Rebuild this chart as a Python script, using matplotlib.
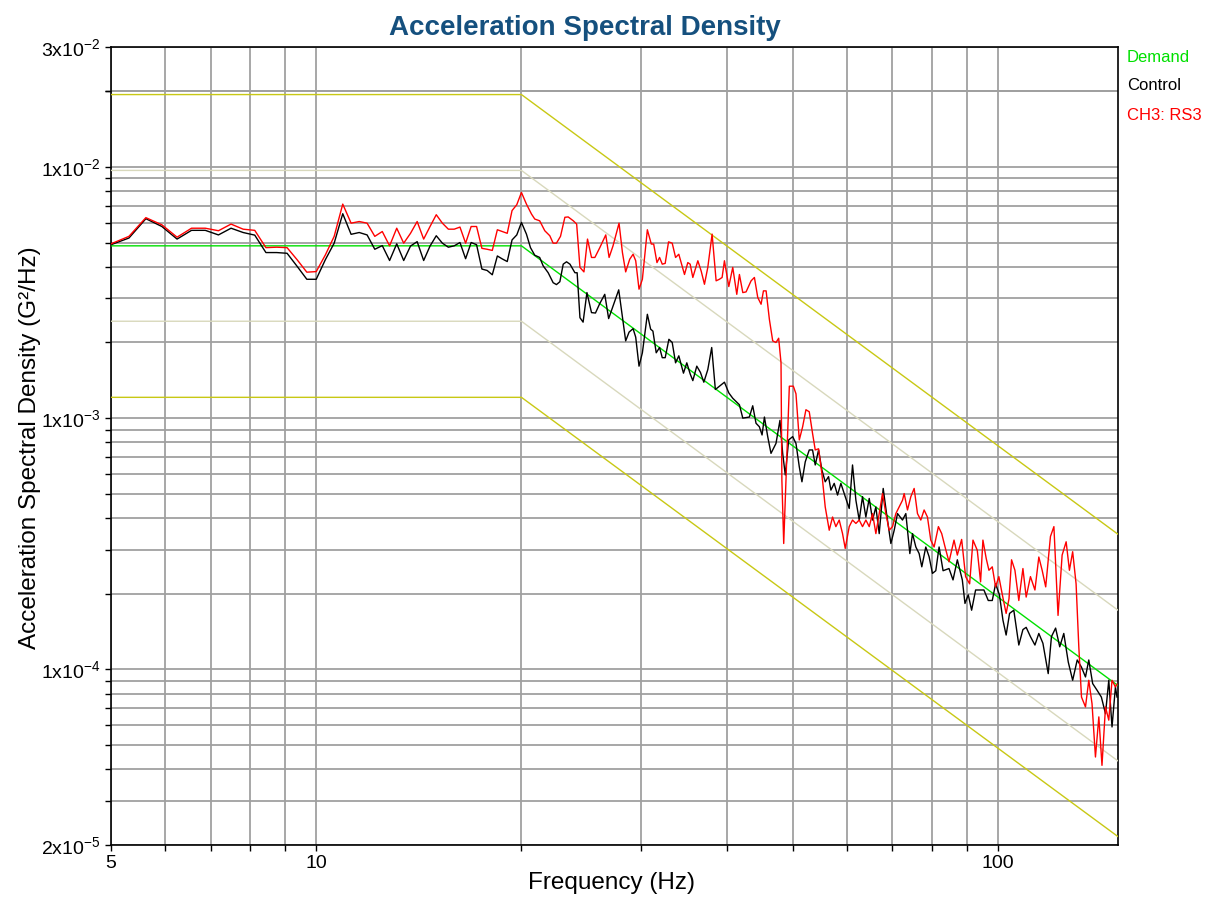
import numpy as np
import matplotlib
matplotlib.use("Agg")
import matplotlib.pyplot as plt
from matplotlib.ticker import FixedLocator, NullFormatter

plt.rcParams['font.family'] = ['Liberation Sans', 'DejaVu Sans']
plt.rcParams['mathtext.default'] = 'regular'

# PSD values below are in units of 1e-3 G^2/Hz
# 5-20 Hz, analyzer lines every 0.3125 Hz
freq_lo = np.arange(5, 20.01, 0.3125)
ctrl_lo = [4.90, 5.21, 6.22, 5.79, 5.16, 5.59, 5.59, 5.36, 5.70, 5.48,
           5.35, 4.56, 4.56, 4.53, 4.02, 3.57, 3.57, 4.27, 4.97, 6.51,
           5.39, 5.48, 5.36, 4.70, 4.86, 4.24, 4.94, 4.24, 4.84, 5.04,
           4.24, 4.84, 5.32, 4.97, 4.79, 4.85, 5.00, 4.31, 5.00, 4.90,
           3.92, 3.87, 3.72, 4.42, 4.30, 4.20, 5.12, 5.36, 6.01]
rs3_lo = [4.94, 5.29, 6.28, 5.88, 5.25, 5.70, 5.70, 5.57, 5.92, 5.65,
          5.59, 4.77, 4.79, 4.77, 4.27, 3.81, 3.83, 4.46, 5.29, 7.11,
          5.97, 6.06, 5.97, 5.29, 5.53, 4.85, 5.70, 4.97, 5.44, 6.06,
          5.16, 5.79, 6.45, 5.97, 5.65, 5.65, 5.76, 4.97, 5.79, 5.79,
          4.74, 4.70, 4.65, 5.62, 5.53, 5.44, 6.70, 7.07, 7.91]

# above 20 Hz
ctrl_hi_f = [20.34, 20.62, 20.92, 21.27, 21.52, 21.89, 22.26, 22.51, 22.77, 23.03,
             23.29, 23.56, 23.96, 24.14, 24.37, 24.63, 24.95, 25.34, 25.68, 26.06,
             26.50, 26.85, 27.25, 27.78, 28.19, 28.44, 28.77, 29.16, 29.42, 29.75,
             30.09, 30.60, 30.94, 31.18, 31.53, 31.89, 32.18, 32.50, 32.91, 33.28,
             33.66, 34.03, 34.57, 34.96, 35.36, 35.68, 36.16, 36.61, 37.03, 37.53,
             38.03, 38.50, 39.03, 39.70, 40.29, 40.83, 41.76, 42.24, 43.19, 43.68,
             44.17, 44.67, 45.08, 45.44, 45.95, 46.46, 47.25, 47.89, 48.33, 48.76,
             49.32, 49.99, 50.55, 51.12, 51.58, 52.16, 52.87, 53.46, 53.95, 54.56,
             55.17, 55.80, 56.43, 56.88, 57.52, 58.17, 58.83, 59.70, 60.51, 61.19,
             61.89, 62.59, 63.29, 64.01, 64.74, 65.47, 66.21, 66.96, 67.87, 68.64,
             69.65, 70.44, 71.23, 72.44, 73.26, 74.26, 74.93, 75.78, 76.63, 77.32,
             78.37, 79.25, 80.15, 81.06, 81.97, 83.08, 84.76, 85.92, 87.18, 88.66,
             89.46, 90.46, 91.49, 92.73, 93.99, 95.37, 96.78, 98.1, 99.2, 100.5,
             101.7, 102.8, 104.0, 105.5, 107.3, 108.8, 110.0, 111.6, 113.3, 114.8,
             116.4, 118.5, 119.8, 121.5, 123.2, 124.9, 126.8, 128.7, 130.7, 132.6,
             134.4, 135.9, 137.7, 139.8, 141.8, 143.8, 145.4, 147.0, 148.7, 149.5]
ctrl_hi = [5.40, 4.77, 4.45, 4.36, 4.04, 3.79, 3.46, 3.40, 3.49, 4.10,
           4.19, 4.10, 3.79, 3.79, 2.51, 2.41, 3.16, 2.63, 2.62, 2.86,
           3.11, 2.49, 2.79, 3.24, 2.41, 2.03, 2.20, 2.27, 2.10, 1.61,
           1.82, 2.59, 2.26, 2.22, 1.82, 1.91, 1.74, 1.74, 2.06, 2.00,
           1.66, 1.77, 1.51, 1.66, 1.50, 1.41, 1.61, 1.52, 1.39, 1.56,
           1.91, 1.30, 1.34, 1.39, 1.26, 1.20, 1.13, 1.00, 1.01, 1.12,
           0.954, 0.924, 0.857, 1.01, 0.844, 0.724, 0.793, 0.980, 0.724, 0.594,
           0.819, 0.844, 0.793, 0.640, 0.558, 0.670, 0.747, 0.747, 0.651, 0.747,
           0.622, 0.558, 0.585, 0.517, 0.550, 0.494, 0.550, 0.487, 0.437, 0.651,
           0.471, 0.393, 0.487, 0.404, 0.479, 0.393, 0.443, 0.347, 0.525, 0.417,
           0.317, 0.358, 0.417, 0.393, 0.417, 0.289, 0.347, 0.307, 0.289, 0.256,
           0.307, 0.281, 0.241, 0.247, 0.307, 0.247, 0.252, 0.227, 0.273, 0.227,
           0.183, 0.198, 0.172, 0.207, 0.207, 0.207, 0.188, 0.188, 0.219, 0.198,
           0.157, 0.137, 0.167, 0.172, 0.125, 0.144, 0.147, 0.135, 0.125, 0.139,
           0.127, 0.0962, 0.135, 0.146, 0.123, 0.139, 0.107, 0.0905, 0.109, 0.102,
           0.0933, 0.109, 0.0878, 0.0825, 0.0776, 0.0666, 0.0905, 0.0590, 0.0851, 0.0776]

rs3_hi_f = [20.34, 20.69, 20.92, 21.27, 21.64, 22.01, 22.26, 22.51, 22.82, 23.16,
            23.42, 23.83, 24.10, 24.37, 24.70, 25.00, 25.34, 25.63, 26.06, 26.59,
            26.89, 27.25, 27.81, 28.13, 28.44, 28.83, 29.16, 29.42, 29.75, 30.09,
            30.60, 31.01, 31.26, 31.61, 31.89, 32.18, 32.50, 32.87, 33.28, 33.66,
            34.03, 34.69, 35.08, 35.36, 35.68, 36.29, 36.70, 37.11, 37.53, 38.08,
            38.60, 39.03, 39.39, 39.70, 40.29, 40.83, 41.39, 41.76, 42.24, 42.71,
            43.44, 43.93, 44.43, 44.93, 45.29, 45.70, 46.21, 46.73, 47.25, 47.68,
            48.06, 48.2, 48.50, 48.98, 49.43, 50.10, 50.55, 51.12, 51.70, 52.28,
            52.87, 53.46, 53.95, 54.56, 55.17, 55.80, 56.56, 57.20, 57.84, 58.50,
            59.16, 59.70, 60.51, 61.19, 61.89, 62.59, 63.29, 64.01, 64.74, 65.47,
            66.21, 66.96, 67.72, 68.48, 69.26, 70.04, 70.83, 71.63, 72.44, 72.85,
            73.67, 74.51, 75.35, 76.20, 77.06, 77.93, 78.81, 79.70, 80.60, 81.78,
            82.70, 83.64, 84.76, 86.21, 87.18, 88.46, 89.65, 90.88, 91.91, 93.25,
            94.30, 95.05, 96.12, 97.0, 98.1, 99.2, 100.3, 101.5, 102.8, 103.8,
            104.7, 105.9, 107.3, 108.8, 110.0, 111.6, 113.3, 114.8, 116.1, 117.5,
            119.4, 120.8, 122.5, 124.2, 125.9, 127.3, 128.7, 130.2, 131.4, 132.6,
            134.4, 135.9, 137.4, 139.0, 140.6, 142.1, 143.8, 145.4, 147.0, 148.7,
            149.5]
rs3_hi = [7.11, 6.49, 6.20, 6.10, 5.57, 5.32, 4.97, 4.97, 5.29, 6.30,
          6.32, 6.10, 5.92, 3.98, 3.82, 5.16, 4.36, 4.36, 4.77, 5.36,
          4.36, 4.85, 5.97, 4.56, 3.82, 4.29, 4.49, 4.23, 3.26, 3.57,
          5.62, 4.93, 4.93, 4.16, 4.36, 4.10, 4.13, 5.03, 4.97, 4.36,
          4.49, 3.73, 4.16, 4.10, 3.63, 4.23, 3.85, 3.41, 3.98, 5.40,
          3.52, 3.57, 3.63, 4.23, 3.34, 3.98, 3.11, 3.73, 3.16, 3.18,
          3.52, 3.63, 3.02, 2.84, 3.21, 3.21, 2.47, 2.03, 2.00, 2.08,
          1.66, 0.567, 0.317, 0.661, 1.34, 1.34, 1.25, 0.819, 0.924, 1.08,
          1.06, 0.870, 0.747, 0.755, 0.602, 0.443, 0.358, 0.404, 0.370, 0.393,
          0.347, 0.303, 0.370, 0.393, 0.381, 0.393, 0.370, 0.393, 0.370, 0.417,
          0.347, 0.417, 0.501, 0.417, 0.358, 0.370, 0.417, 0.443, 0.471, 0.501,
          0.431, 0.487, 0.525, 0.417, 0.393, 0.431, 0.404, 0.327, 0.307, 0.370,
          0.347, 0.307, 0.268, 0.327, 0.285, 0.329, 0.234, 0.219, 0.327, 0.298,
          0.223, 0.327, 0.276, 0.248, 0.256, 0.213, 0.234, 0.198, 0.167, 0.191,
          0.273, 0.248, 0.188, 0.252, 0.194, 0.234, 0.207, 0.280, 0.248, 0.213,
          0.338, 0.370, 0.164, 0.285, 0.322, 0.248, 0.294, 0.219, 0.123, 0.0776,
          0.0709, 0.0905, 0.0730, 0.0448, 0.0647, 0.0415, 0.0709, 0.0628, 0.0905, 0.0851,
          0.0873]

# reference profile and tolerance bands (G^2/Hz)
prof_f = [5, 20, 150]
demand = [4.85e-3, 4.85e-3, 8.62e-5]
abort_hi = [1.94e-2, 1.94e-2, 3.45e-4]
abort_lo = [1.21e-3, 1.21e-3, 2.16e-5]
alarm_hi = [9.68e-3, 9.68e-3, 1.72e-4]
alarm_lo = [2.43e-3, 2.43e-3, 4.32e-5]

ctrl_f = np.concatenate([freq_lo, ctrl_hi_f])
ctrl = np.concatenate([ctrl_lo, ctrl_hi]) * 1e-3
rs3_f = np.concatenate([freq_lo, rs3_hi_f])
rs3 = np.concatenate([rs3_lo, rs3_hi]) * 1e-3

fig = plt.figure(figsize=(12.05, 8.98), dpi=100)
ax = fig.add_axes([111 / 1205, 1 - 845 / 898, (1118 - 111) / 1205, (845 - 47) / 898])
ax.set_xscale('log')
ax.set_yscale('log')
ax.set_xlim(5, 150)
ax.set_ylim(2e-5, 3e-2)

abort_col = '#c8c814'
alarm_col = '#d8d8bc'
ax.plot(prof_f, abort_hi, color=abort_col, lw=1.0, zorder=3)
ax.plot(prof_f, abort_lo, color=abort_col, lw=1.0, zorder=3)
ax.plot(prof_f, alarm_hi, color=alarm_col, lw=1.0, zorder=3)
ax.plot(prof_f, alarm_lo, color=alarm_col, lw=1.0, zorder=3)
ax.plot(prof_f, demand, color='#00e000', lw=1.0, zorder=4)
ax.plot(ctrl_f, ctrl, color='black', lw=1.0, zorder=5)
ax.plot(rs3_f, rs3, color='#ff0000', lw=1.0, zorder=6)

# ticks and grid
ax.xaxis.set_major_locator(FixedLocator([5, 10, 100]))
ax.xaxis.set_minor_locator(FixedLocator([6, 7, 8, 9, 20, 30, 40, 50, 60, 70, 80, 90]))
ax.set_xticklabels(['5', '10', '100'])
ax.xaxis.set_minor_formatter(NullFormatter())

ymaj = [2e-5, 1e-4, 1e-3, 1e-2, 3e-2]
ymin = [m * 10.0 ** e for e in (-5, -4, -3, -2) for m in range(1, 10)
        if 2e-5 < m * 10.0 ** e < 3e-2 and m * 10.0 ** e not in ymaj]
ymin.append(2e-2)
ax.yaxis.set_major_locator(FixedLocator(ymaj))
ax.yaxis.set_minor_locator(FixedLocator(ymin))
ax.set_yticklabels([r'2x10$^{-5}$', r'1x10$^{-4}$', r'1x10$^{-3}$', r'1x10$^{-2}$', r'3x10$^{-2}$'])
ax.yaxis.set_minor_formatter(NullFormatter())

ax.grid(True, which='both', color='#a0a0a0', lw=1.3, zorder=1)
ax.set_axisbelow(True)
ax.tick_params(which='both', direction='out', length=4, width=1, color='black',
               labelsize=14, top=False, right=False)
ax.tick_params(axis='x', pad=3)
for s in ax.spines.values():
    s.set_color('black')
    s.set_linewidth(1.2)

fig.text(612 / 1205, 1 - 883 / 898, 'Frequency (Hz)', ha='center', va='center', fontsize=17.5)
fig.text(30 / 1205, 1 - 448 / 898, 'Acceleration Spectral Density (G²/Hz)', ha='center',
         va='center', rotation=90, fontsize=17.5)

fig.text(585 / 1205, 1 - 28 / 898, 'Acceleration Spectral Density', ha='center', va='center',
         fontsize=20, fontweight='bold', color='#15507e')

fig.text(1127 / 1205, 1 - 57 / 898, 'Demand', color='#00e000', fontsize=12, va='center')
fig.text(1127 / 1205, 1 - 86 / 898, 'Control', color='black', fontsize=12, va='center')
fig.text(1127 / 1205, 1 - 115 / 898, 'CH3: RS3', color='#ff0000', fontsize=12, va='center')

fig.savefig('out.png', dpi=100)
